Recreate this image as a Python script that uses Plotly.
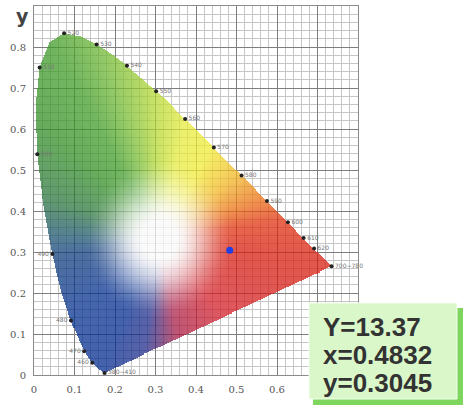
import numpy as np
import plotly.graph_objects as go

# CIE 1931 spectral locus (nm, x, y)
locus_nm = [380, 385, 390, 395, 400, 405, 410, 415, 420, 425, 430, 435, 440, 445, 450, 455,
            460, 465, 470, 475, 480, 485, 490, 495, 500, 505, 510, 515, 520, 525, 530, 535,
            540, 545, 550, 555, 560, 565, 570, 575, 580, 585, 590, 595, 600, 605, 610, 615,
            620, 625, 630, 635, 640, 645, 650, 655, 660, 665, 670, 680, 690, 700]
locus_x = [0.1741, 0.1740, 0.1738, 0.1736, 0.1733, 0.1730, 0.1726, 0.1721, 0.1714, 0.1703,
           0.1689, 0.1669, 0.1644, 0.1611, 0.1566, 0.1510, 0.1440, 0.1355, 0.1241, 0.1096,
           0.0913, 0.0687, 0.0454, 0.0235, 0.0082, 0.0039, 0.0139, 0.0389, 0.0743, 0.1142,
           0.1547, 0.1929, 0.2296, 0.2658, 0.3016, 0.3373, 0.3731, 0.4087, 0.4441, 0.4788,
           0.5125, 0.5448, 0.5752, 0.6029, 0.6270, 0.6482, 0.6658, 0.6801, 0.6915, 0.7006,
           0.7079, 0.7140, 0.7190, 0.7230, 0.7260, 0.7283, 0.7300, 0.7311, 0.7320, 0.7334,
           0.7344, 0.7347]
locus_y = [0.0050, 0.0050, 0.0049, 0.0049, 0.0048, 0.0048, 0.0048, 0.0048, 0.0051, 0.0058,
           0.0069, 0.0086, 0.0109, 0.0138, 0.0177, 0.0227, 0.0297, 0.0399, 0.0578, 0.0868,
           0.1327, 0.2007, 0.2950, 0.4127, 0.5384, 0.6548, 0.7502, 0.8120, 0.8338, 0.8262,
           0.8059, 0.7816, 0.7543, 0.7243, 0.6923, 0.6589, 0.6245, 0.5896, 0.5547, 0.5202,
           0.4866, 0.4544, 0.4242, 0.3965, 0.3725, 0.3514, 0.3340, 0.3197, 0.3083, 0.2993,
           0.2920, 0.2859, 0.2809, 0.2770, 0.2740, 0.2717, 0.2700, 0.2689, 0.2680, 0.2666,
           0.2656, 0.2653]

# labelled wavelength points
label_text = ["380~410", "460", "470", "480", "490", "500", "510", "520", "530", "540",
              "550", "560", "570", "580", "590", "600", "610", "620", "700~780"]
label_x = [0.1741, 0.1440, 0.1241, 0.0913, 0.0454, 0.0082, 0.0139, 0.0743, 0.1547, 0.2296,
           0.3016, 0.3731, 0.4441, 0.5125, 0.5752, 0.6270, 0.6658, 0.6915, 0.7347]
label_y = [0.0050, 0.0297, 0.0578, 0.1327, 0.2950, 0.5384, 0.7502, 0.8338, 0.8059, 0.7543,
           0.6923, 0.6245, 0.5547, 0.4866, 0.4242, 0.3725, 0.3340, 0.3083, 0.2653]
label_side = ["middle right", "middle left", "middle left", "middle left", "middle left",
              "middle right", "middle right", "middle right", "middle right", "middle right",
              "middle right", "middle right", "middle right", "middle right", "middle right",
              "middle right", "middle right", "middle right", "middle right"]

# measured sample
sample_Y = 13.37
sample_x = [0.4832]
sample_y = [0.3045]

x_ticks = [0, 0.1, 0.2, 0.3, 0.4, 0.5, 0.6, 0.7, 0.8]
x_ticktext = ["0", "0.1", "0.2", "0.3", "0.4", "0.5", "0.6", "", ""]
y_ticks = [0, 0.1, 0.2, 0.3, 0.4, 0.5, 0.6, 0.7, 0.8, 0.9]
y_ticktext = ["0", "0.1", "0.2", "0.3", "0.4", "0.5", "0.6", "0.7", "0.8", ""]

# ---------- colour rendering of the chromaticity area ----------
step = 0.0025
gx = np.arange(0, 0.8, step) + step / 2
gy = np.arange(0, 0.9, step) + step / 2
PX, PY = np.meshgrid(gx, gy)

vx = np.array(locus_x)
vy = np.array(locus_y)
inside = np.zeros(PX.shape, dtype=bool)
j = len(vx) - 1
for i in range(len(vx)):
    dyv = vy[j] - vy[i]
    if dyv == 0:
        dyv = 1e-12
    cond = ((vy[i] > PY) != (vy[j] > PY)) & (PX < (vx[j] - vx[i]) * (PY - vy[i]) / dyv + vx[i])
    inside ^= cond
    j = i

# hue anchors (angle around white, rgb)
wx, wy = 0.31, 0.33
anchors = [
    (-172, (78, 112, 158)),
    (-140, (70, 102, 172)),
    (-115, (68, 98, 172)),
    (-97, (90, 98, 168)),
    (-80, (190, 86, 118)),
    (-50, (222, 88, 96)),
    (-7, (226, 88, 76)),
    (9, (232, 102, 76)),
    (21, (240, 145, 80)),
    (39, (245, 200, 92)),
    (60, (246, 240, 104)),
    (78, (236, 240, 110)),
    (92, (200, 226, 104)),
    (108, (145, 200, 104)),
    (118, (115, 182, 96)),
    (135, (104, 172, 94)),
    (160, (98, 152, 112)),
    (178, (86, 128, 148)),
]
angs = np.array([a[0] for a in anchors] + [anchors[0][0] + 360], dtype=float)
cols = np.array([a[1] for a in anchors] + [anchors[0][1]], dtype=float) / 255.0

theta = np.degrees(np.arctan2(PY - wy, PX - wx))
theta = np.where(theta < angs[0], theta + 360, theta)
hue = np.stack([np.interp(theta, angs, cols[:, k]) for k in range(3)], axis=-1)
dist = np.sqrt((PX - wx) ** 2 + ((PY - wy) * 0.95) ** 2)
s = np.clip((dist - 0.035) / (0.19 - 0.035), 0, 1)
s = s * s * (3 - 2 * s)
target = (1 - s[..., None]) * 0.985 + s[..., None] * hue
alpha = 0.74
base = np.clip((target - (1 - alpha)) / alpha, 0, 1)
rgba = np.zeros(PX.shape + (4,), dtype=np.uint8)
rgba[..., :3] = (base * 255).astype(np.uint8)
rgba[..., 3] = np.where(inside, int(alpha * 255), 0).astype(np.uint8)

fig = go.Figure()
fig.add_trace(go.Image(z=rgba, colormodel="rgba", zmin=[0, 0, 0, 0], zmax=[255, 255, 255, 255],
                       x0=step / 2, dx=step, y0=step / 2, dy=step, hoverinfo="skip"))
fig.add_trace(go.Scatter(x=label_x, y=label_y, mode="markers+text", text=label_text,
                         textposition=label_side, cliponaxis=False,
                         textfont=dict(size=6, color="#777", family="DejaVu Sans"),
                         marker=dict(size=4, color="#222"), hoverinfo="skip", showlegend=False))
fig.add_trace(go.Scatter(x=sample_x, y=sample_y, mode="markers",
                         marker=dict(size=7, color="#1f3fe8"), showlegend=False))

axis_common = dict(showgrid=True, gridcolor="#7e7e7e", gridwidth=1, zeroline=False,
                   showline=True, linecolor="#8a8a8a", mirror=True, automargin=False,
                   ticks="outside", ticklen=5, tickcolor="rgba(0,0,0,0)",
                   tickfont=dict(size=10, color="#555", family="DejaVu Serif"),
                   minor=dict(dtick=0.02, showgrid=True, gridcolor="#c6c6c6", gridwidth=1))
fig.update_xaxes(range=[0, 0.8], tickvals=x_ticks, ticktext=x_ticktext, constrain="range",
                 **axis_common)
fig.update_yaxes(range=[0, 0.9], tickvals=y_ticks, ticktext=y_ticktext, autorange=False,
                 scaleanchor=False, constrain="range", **axis_common)

# info box (paper coords; plot area is 324 x 369 px starting at 34,6)
def px_x(p):
    return (p - 34) / 324.0

def px_y(p):
    return (375 - p) / 369.0

fig.add_shape(type="rect", xref="paper", yref="paper", x0=px_x(313), x1=px_x(463),
              y0=px_y(405), y1=px_y(308), fillcolor="#7fd65e", line=dict(width=0), layer="above")
fig.add_shape(type="rect", xref="paper", yref="paper", x0=px_x(309), x1=px_x(457),
              y0=px_y(399), y1=px_y(303), fillcolor="#daf7c9",
              line=dict(width=1, color="#f4fff0"), layer="above")

info = ["Y=%.2f" % sample_Y, "x=%.4f" % sample_x[0], "y=%.4f" % sample_y[0]]
for k, t in enumerate(info):
    fig.add_annotation(xref="paper", yref="paper", x=px_x(321), y=px_y(327 + 28 * k),
                       xanchor="left", yanchor="middle", text="<b>%s</b>" % t, showarrow=False,
                       font=dict(size=26, color="#333", family="Liberation Sans"))

fig.add_annotation(xref="paper", yref="paper", x=px_x(22), y=px_y(16), xanchor="center",
                   yanchor="middle", text="<b>y</b>", showarrow=False,
                   font=dict(size=19, color="#444", family="DejaVu Sans"))

fig.update_layout(width=468, height=410, margin=dict(l=34, r=110, t=6, b=35),
                  plot_bgcolor="white", paper_bgcolor="white", showlegend=False)

fig.write_html("out.html", config={"displayModeBar": False},
               post_script="document.body.style.margin='0px';document.body.style.overflow='hidden';")
